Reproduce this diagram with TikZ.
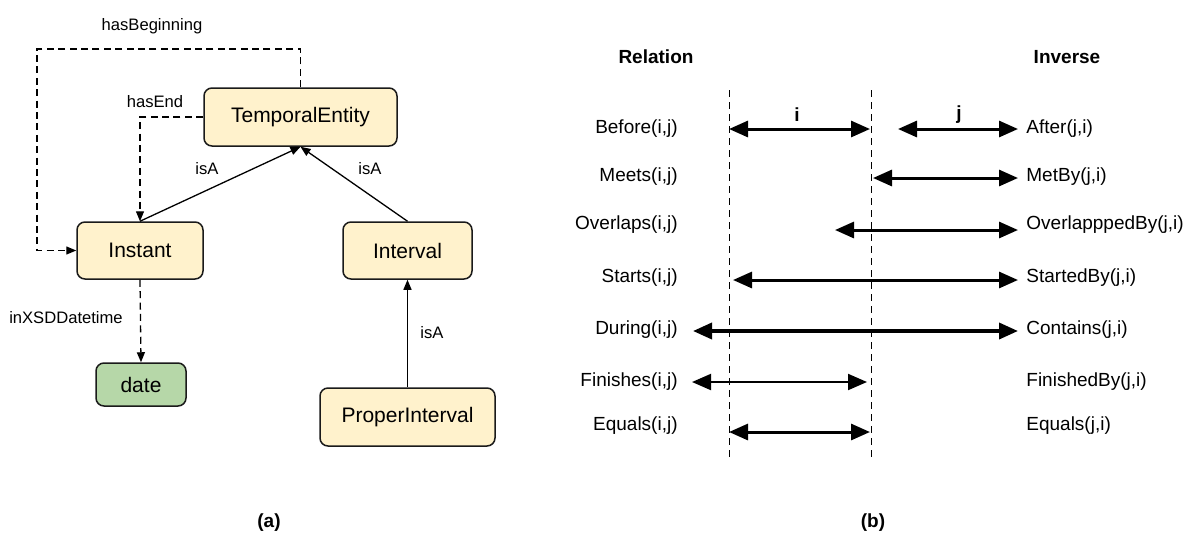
\documentclass[tikz,border=0pt]{standalone}
\usepackage{fontspec}
\setmainfont{Liberation Sans}
\usetikzlibrary{arrows.meta}
\definecolor{yellowfill}{HTML}{FFF2CC}
\definecolor{greenfill}{HTML}{B6D7A8}
\definecolor{boxline}{HTML}{1A1A1A}
\begin{document}
\begin{tikzpicture}[x=0.5pt,y=-0.5pt,
  cls/.style={draw=boxline, line width=0.75pt, rounded corners=4pt, fill=yellowfill,
    font=\fontsize{10.5}{12}\selectfont, inner sep=0pt},
  lit/.style={cls, fill=greenfill},
  lbl/.style={font=\fontsize{8.3}{10}\selectfont, inner sep=0pt},
  rel/.style={font=\fontsize{9.5}{11}\selectfont, inner sep=0pt},
  hdr/.style={font=\fontsize{9.5}{11}\selectfont\bfseries, inner sep=0pt},
  isa/.style={line width=0.65pt, -{Triangle[length=5pt,width=4pt]}},
  prop/.style={line width=0.65pt, dash pattern=on 3.5pt off 2.2pt, -{Triangle[length=5pt,width=4pt]}},
  timeline/.style={line width=0.5pt, dash pattern=on 3.5pt off 2.5pt},
  span/.style={line width=1.5pt, {Triangle[length=9.5pt,width=8pt]}-{Triangle[length=9.5pt,width=8pt]}},
]
\useasboundingbox (0,0) rectangle (1200,553);

% ---------- (a) ----------
\node[cls, minimum width=96.5pt, minimum height=29pt] (te) at (300.5,117) {TemporalEntity};
\node[cls, minimum width=63pt, minimum height=28.5pt] (inst) at (140,250.5) {Instant};
\node[cls, minimum width=64.5pt, minimum height=28.5pt] (intv) at (407.5,250.5) {Interval};
\node[lit, minimum width=45pt, minimum height=21.5pt] (date) at (141,384.5) {date};
\node[cls, minimum width=87.5pt, minimum height=29pt] (pint) at (407.5,417) {ProperInterval};

\draw[isa] (inst.north) -- (te.south);
\draw[isa] (intv.north) -- (te.south);
\draw[isa] (pint.north) -- (intv.south);
\draw[prop] (te.west) -| (inst.north);
\coordinate (hb) at (37,49);
\draw[prop] (te.north) -- (te.north |- hb) -- (hb) |- (inst.west);
\draw[prop] (inst.south) -- (date.north);

\node[lbl] (l1) at (152,26) {hasBeginning};
\node[lbl] (l2) at (155,102) {hasEnd};
\node[lbl] (l3) at (207,169) {isA};
\node[lbl] (l4) at (370,169) {isA};
\node[lbl] (l5) at (432,333) {isA};
\node[lbl] (l6) at (66,318) {inXSDDatetime};
\node[hdr] (ca) at (269,523) {(a)};

% ---------- (b) ----------
\node[hdr] (hrel) at (656,57) {Relation};
\node[hdr] (hinv) at (1067,57) {Inverse};
\node[hdr] (cb) at (873,523) {(b)};

\coordinate (ta) at (729,90);  \coordinate (tb) at (729,460);
\coordinate (ua) at (871,90);  \coordinate (ub) at (871,460);
\draw[timeline] (ta) -- (tb);
\draw[timeline] (ua) -- (ub);

\foreach \n/\y/\a/\b in {before/129/Before(i{,}j)/After(j{,}i),
                         meets/177/Meets(i{,}j)/MetBy(j{,}i),
                         overlaps/225/Overlaps(i{,}j)/OverlapppedBy(j{,}i),
                         starts/278/Starts(i{,}j)/StartedBy(j{,}i),
                         during/330/During(i{,}j)/Contains(j{,}i),
                         finishes/382/Finishes(i{,}j)/FinishedBy(j{,}i),
                         equals/426/Equals(i{,}j)/Equals(j{,}i)}{
  \node[rel, anchor=east] (\n L) at (678,\y) {\a};
  \node[rel, anchor=west] (\n R) at (1026,\y) {\b};
}

\coordinate (b1) at (729,129); \coordinate (b2) at (870,129);
\coordinate (a1) at (898,129); \coordinate (a2) at (1018,129);
\coordinate (m1) at (873,178); \coordinate (m2) at (1018,178);
\coordinate (o1) at (835,230); \coordinate (o2) at (1018,230);
\coordinate (s1) at (733,280); \coordinate (s2) at (1018,280);
\coordinate (d1) at (693,331); \coordinate (d2) at (1018,331);
\coordinate (f1) at (692,382); \coordinate (f2) at (867,382);
\coordinate (e1) at (729,432); \coordinate (e2) at (870,432);

\draw[span] (b1) -- (b2);
\draw[span] (a1) -- (a2);
\draw[span] (m1) -- (m2);
\draw[span] (o1) -- (o2);
\draw[span] (s1) -- (s2);
\draw[span, line width=1.8pt] (d1) -- (d2);
\draw[span, line width=1pt] (f1) -- (f2);
\draw[span] (e1) -- (e2);

\node[hdr] (li) at (797,115) {i};
\node[hdr] (lj) at (959,115) {j};
\end{tikzpicture}
\end{document}
